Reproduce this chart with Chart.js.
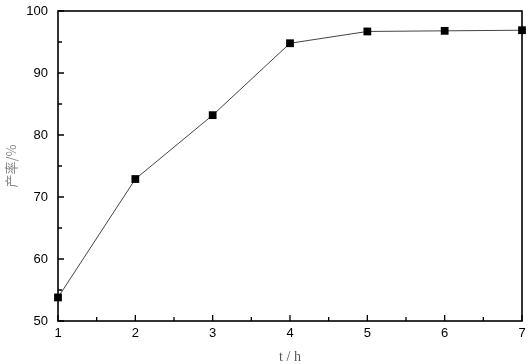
<!DOCTYPE html>
<html>
<head>
<meta charset="utf-8">
<script src="https://cdn.jsdelivr.net/npm/chart.js@4"></script>
<style>
  html, body { margin: 0; padding: 0; background: #fff; }
  #wrap { width: 528px; height: 364px; }
</style>
</head>
<body>
<div id="wrap"><canvas id="yield-chart"></canvas></div>
<script>
// reaction time (h) vs yield (%)
const hours = [1, 2, 3, 4, 5, 6, 7];
const yieldPct = [53.8, 72.9, 83.2, 94.8, 96.7, 96.8, 96.9];
const xTicks = [1, 2, 3, 4, 5, 6, 7];
const yTicks = [50, 60, 70, 80, 90, 100];

// frame + inward ticks, like origin plots
const framePlugin = {
    id: 'frame',
    afterDraw(chart) {
        const { ctx, chartArea: a, scales } = chart;
        ctx.save();
        ctx.strokeStyle = '#000';
        ctx.lineWidth = 1.6;
        ctx.strokeRect(a.left, a.top, a.right - a.left, a.bottom - a.top);
        ctx.lineWidth = 1.3;
        ctx.beginPath();
        for (let v = 1; v <= 7; v += 0.5) {
            const px = scales.x.getPixelForValue(v);
            const len = Number.isInteger(v) ? 6 : 4;
            ctx.moveTo(px, a.bottom);
            ctx.lineTo(px, a.bottom - len);
        }
        for (let v = 50; v <= 100; v += 5) {
            const py = scales.y.getPixelForValue(v);
            const len = v % 10 === 0 ? 6 : 4;
            ctx.moveTo(a.left, py);
            ctx.lineTo(a.left + len, py);
        }
        ctx.stroke();
        ctx.restore();
    }
};

const noOverhang = s => {
    s.paddingTop = 0;
    s.paddingBottom = 0;
    s.paddingLeft = 0;
    s.paddingRight = 0;
};

new Chart(document.getElementById('yield-chart'), {
    type: 'line',
    data: {
        datasets: [{
            data: hours.map((h, i) => ({ x: h, y: yieldPct[i] })),
            borderColor: '#444',
            borderWidth: 1,
            backgroundColor: '#000',
            pointStyle: 'rect',
            pointRadius: 5.5,
            pointBorderWidth: 0,
            tension: 0,
            clip: false
        }]
    },
    options: {
        responsive: true,
        maintainAspectRatio: false,
        animation: false,
        devicePixelRatio: 1,
        layout: { padding: { top: 11, right: 6, left: 3, bottom: 0 } },
        plugins: { legend: { display: false }, tooltip: { enabled: false } },
        scales: {
            x: {
                type: 'linear',
                min: 1,
                max: 7,
                afterBuildTicks: s => { s.ticks = xTicks.map(v => ({ value: v })); },
                afterFit: s => { s.height = 43; noOverhang(s); },
                grid: { display: false, drawTicks: false },
                border: { display: false },
                ticks: { color: '#000', padding: 5, font: { family: 'Liberation Sans', size: 13 } },
                title: {
                    display: true,
                    text: 't / h',
                    color: '#555',
                    padding: { top: 0, bottom: -2 },
                    font: { family: 'Liberation Serif', size: 14 }
                }
            },
            y: {
                min: 50,
                max: 100,
                afterBuildTicks: s => { s.ticks = yTicks.map(v => ({ value: v })); },
                afterFit: s => { s.width = 55; noOverhang(s); },
                grid: { display: false, drawTicks: false },
                border: { display: false },
                ticks: { color: '#000', padding: 10, font: { family: 'Liberation Sans', size: 13 } },
                title: {
                    display: true,
                    text: '产率/%',
                    color: '#888',
                    padding: { top: 0, bottom: 0 },
                    font: { family: 'Noto Sans CJK SC', size: 13 }
                }
            }
        }
    },
    plugins: [framePlugin]
});
</script>
</body>
</html>
